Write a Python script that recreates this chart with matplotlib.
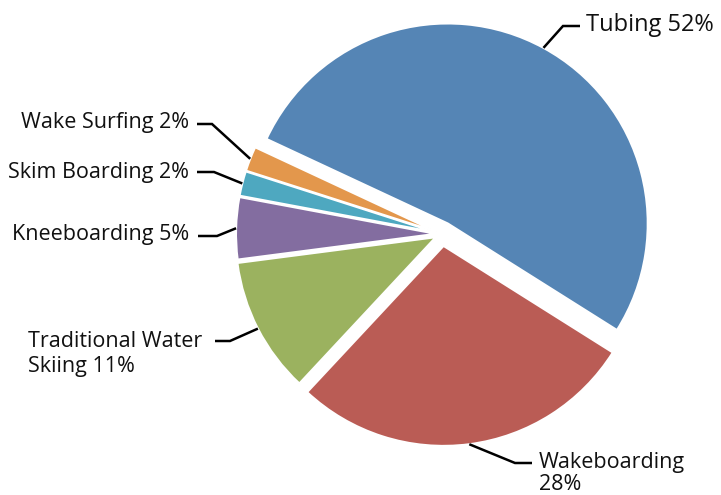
import numpy as np
import matplotlib.pyplot as plt

plt.rcParams['font.family'] = ['Open Sans', 'DejaVu Sans']

# dados
categorias = ['Tubing', 'Wakeboarding', 'Traditional Water\nSkiing', 'Kneeboarding', 'Skim Boarding', 'Wake Surfing']
valores = [52, 28, 11, 5, 2, 2]
separadores = [' ', '\n', ' ', ' ', ' ', ' ']
cores = ['#5585b5', '#ba5c55', '#9bb25f', '#836da0', '#4ea8c0', '#e3974c']

# layout dos rotulos em pixels (origem no canto superior esquerdo)
# (texto x, baseline da ultima linha, cotovelo x, fim da linha x, linha y, alinhamento, fonte, espacamento)
layout = [
    (586, 31, 563, 580, 26, 'left', 17, 1.2),
    (539, 490, 515, 532, 463, 'left', 15.5, 1.05),
    (202, 372, 230, 215, 341, 'right', 15.5, 1.25),
    (189, 240, 217, 198, 236, 'right', 15.5, 1.2),
    (189, 178, 214, 197, 172, 'right', 15.5, 1.2),
    (189, 128, 212, 197, 124, 'right', 15.5, 1.2),
]

W, H = 721, 495
def py(y):
    return H - y

fig = plt.figure(figsize=(7.21, 4.95), dpi=100)
ax = fig.add_axes([0, 0, 1, 1])

R = 200
cx, cy = 442, 234
afastamento = [12, 12, 7, 6, 6, 6]

fatias, _ = ax.pie(valores, colors=cores, explode=afastamento, startangle=155,
                   counterclock=False, radius=R, center=(cx, py(cy)),
                   wedgeprops=dict(edgecolor='white', linewidth=1.5))

for fatia, nome, v, sep, (tx, ty, ex, lx, ly, ha, fs, ls) in zip(fatias, categorias, valores, separadores, layout):
    ang = np.deg2rad((fatia.theta1 + fatia.theta2) / 2)
    ax0 = fatia.center[0] + fatia.r * np.cos(ang)
    ay0 = fatia.center[1] + fatia.r * np.sin(ang)
    ax.plot([ax0, ex, lx], [ay0, py(ly), py(ly)], color='black', linewidth=1.8,
            solid_joinstyle='miter', solid_capstyle='butt')
    txt = nome + sep + str(v) + '%'
    ax.text(tx, py(ty), txt, ha=ha, va='baseline', fontsize=fs, color='#111111',
            multialignment='left', linespacing=ls)

ax.set_xlim(0, W)
ax.set_ylim(0, H)
ax.set_aspect('auto')
ax.axis('off')

plt.savefig('out.png', dpi=100)
